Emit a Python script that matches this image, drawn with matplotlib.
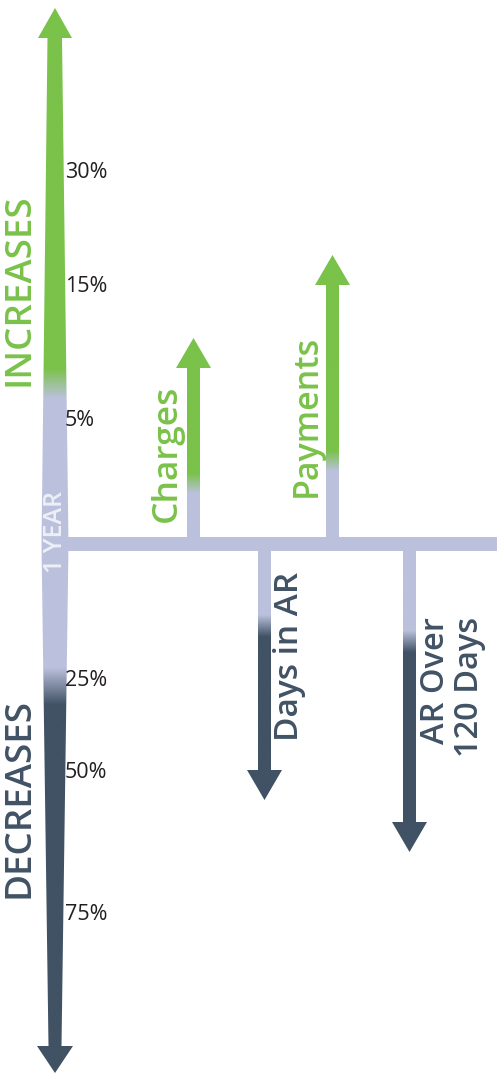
import numpy as np
import matplotlib
matplotlib.use("Agg")
import matplotlib.pyplot as plt
from matplotlib.patches import Polygon, Rectangle

plt.rcParams['font.family'] = ['Open Sans', 'DejaVu Sans']

# colours
GREEN = "#7AC24A"
LAVENDER = "#BBC1DC"
DARK = "#405264"

# main scale labels (above and below the 1 year bar)
up_labels = ["30%", "15%", "5%"]
up_pos = [172, 286, 420]
down_labels = ["25%", "50%", "75%"]
down_pos = [681, 773, 915]

# the four measures: name, direction (+1 up / -1 down), arrow length from the bar
names = ["Charges", "Payments", "Days in AR", "AR Over\n120 Days"]
direction = [1, 1, -1, -1]
lengths = [199, 282, 249, 301]
x_centers = [193.5, 332.5, 264.5, 409.5]

W, H = 497, 1074
BAR_TOP, BAR_BOT = 537, 551

fig = plt.figure(figsize=(W / 100, H / 100), dpi=100)
ax = fig.add_axes([0, 0, 1, 1])
ax.set_xlim(0, W)
ax.set_ylim(H, 0)
ax.axis("off")


def hex2rgb(h):
    return np.array(matplotlib.colors.to_rgb(h))


def gradient_fill(verts, stops):
    # vertical gradient clipped to a polygon
    poly = Polygon(verts, closed=True, facecolor="none", edgecolor="none")
    ax.add_patch(poly)
    ys = np.array([v[1] for v in verts])
    xs = np.array([v[0] for v in verts])
    y0, y1 = ys.min(), ys.max()
    rows = np.linspace(y0, y1, 600)
    sy = [s[0] for s in stops]
    cols = np.array([hex2rgb(s[1]) for s in stops])
    img = np.zeros((len(rows), 2, 3))
    for c in range(3):
        img[:, :, c] = np.interp(rows, sy, cols[:, c])[:, None]
    im = ax.imshow(img, extent=[xs.min(), xs.max(), y1, y0], aspect="auto",
                   interpolation="bilinear", zorder=2)
    im.set_clip_path(poly)


# horizontal 1 year bar
ax.add_patch(Rectangle((60, BAR_TOP), W - 60, BAR_BOT - BAR_TOP,
                       facecolor=LAVENDER, edgecolor="none", zorder=1))

# main double arrow
main = [(55, 8), (72, 38), (62, 38), (68.5, 544), (61.5, 1046), (73, 1046),
        (55, 1073), (37, 1046), (48.5, 1046), (41.5, 544), (47.5, 38), (38, 38)]
gradient_fill(main, [(0, GREEN), (368, GREEN), (398, LAVENDER),
                     (668, LAVENDER), (705, DARK), (1074, DARK)])

# sub arrows
shaft_w, head_w, head_h = 13, 35, 30
for name, d, L, xc in zip(names, direction, lengths, x_centers):
    base = BAR_TOP if d > 0 else BAR_BOT
    tip = base - d * L
    hb = tip + d * head_h
    verts = [(xc - shaft_w / 2, base), (xc - shaft_w / 2, hb), (xc - head_w / 2, hb),
             (xc, tip), (xc + head_w / 2, hb), (xc + shaft_w / 2, hb),
             (xc + shaft_w / 2, base)]
    if d > 0:
        mid = base - 0.27 * L
        stops = [(tip, GREEN), (mid - 10, GREEN), (mid + 10, LAVENDER), (base, LAVENDER)]
    else:
        mid = base + 0.30 * L
        stops = [(base, LAVENDER), (mid - 11, LAVENDER), (mid + 11, DARK), (tip, DARK)]
    gradient_fill(verts, stops)

WORD = dict(rotation=90, fontweight="semibold", zorder=3)

# labels of the sub arrows
ax.text(167, 522, names[0], ha="center", va="bottom", fontsize=25.5,
        color=GREEN, **WORD)
ax.text(307, 497, names[1], ha="center", va="bottom", fontsize=24.5,
        color=GREEN, **WORD)
ax.text(290, 572, names[2], ha="center", va="top", fontsize=24,
        color=DARK, **WORD)
line1, line2 = names[3].split("\n")
ax.text(436, 617, line1, ha="center", va="top", fontsize=23.5,
        color=DARK, **WORD)
ax.text(470, 617, line2, ha="center", va="top", fontsize=23.5,
        color=DARK, **WORD)

# main arrow words
ax.text(20, 290, "INCREASES", ha="center", va="center", fontsize=26.5,
        color=GREEN, **WORD)
ax.text(20, 798, "DECREASES", ha="center", va="center", fontsize=26.5,
        color=DARK, **WORD)
ax.text(55, 532, "1 YEAR", ha="center", va="center", fontsize=18,
        color="#EEF0F7", **WORD)

# percentages
for lab, y in zip(up_labels + down_labels, up_pos + down_pos):
    ax.text(65, y, lab, ha="left", va="center", fontsize=15.5, color="#231F20",
            zorder=3)

fig.savefig("out.png", dpi=100)
